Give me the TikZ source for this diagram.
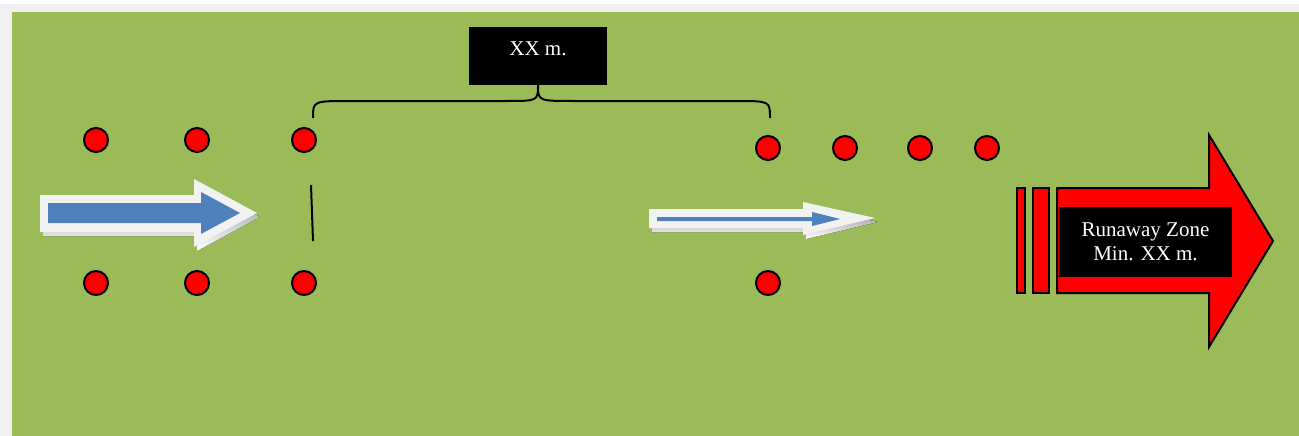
\documentclass[tikz,border=0pt]{standalone}
\usepackage{fontspec}
\setmainfont{Liberation Serif}
\usetikzlibrary{positioning}
\definecolor{field}{HTML}{9BBB59}
\definecolor{frame}{HTML}{F0F0F0}
\definecolor{flow}{HTML}{4F81BD}
\definecolor{halo}{HTML}{F2F2F2}
\definecolor{shade}{HTML}{3F5C3E}
\tikzset{
  cone/.style={circle,draw=black,line width=2pt,fill=red,minimum size=24pt,inner sep=0pt},
  tag/.style={fill=black,text=white,font=\fontsize{21}{24}\selectfont,inner sep=0pt},
  zone/.style={fill=red,draw=black,line width=2pt,line join=miter}
}
\begin{document}
\begin{tikzpicture}[x=1pt,y=-1pt]
  \useasboundingbox (0,0) rectangle (1299,436);
  \fill[white] (0,0) rectangle (1299,436);
  \fill[frame] (0,4) rectangle (1299,436);
  \fill[field] (12,12) rectangle (1299,436);

  % cones, start gate
  \node[cone] (A1) at (96,140) {};
  \node[cone] (A2) at (197,140) {};
  \node[cone] (A3) at (304,140) {};
  \node[cone] (C1) at (96,283) {};
  \node[cone] (C2) at (197,283) {};
  \node[cone] (C3) at (304,283) {};
  % cones, end gate
  \node[cone] (B1) at (768,148) {};
  \node[cone] (B2) at (845,148) {};
  \node[cone] (B3) at (920,148) {};
  \node[cone] (B4) at (987,148) {};
  \node[cone] (D1) at (768,283) {};

  \coordinate (MarkTop) at (311,185);
  \coordinate (MarkBot) at (313,241);
  \draw[line width=2pt] (MarkTop) -- (MarkBot);

  % distance label and brace
  \node[tag,minimum width=138pt,minimum height=58pt,text height=14pt,text depth=14pt]
    (Gap) at (538,56) {XX m.};
  \coordinate (BraceL) at (313,118);
  \coordinate (BraceR) at (770,118);
  \draw[line width=2pt] (BraceL) .. controls (313,101) .. (350,101) -- (505,101)
    .. controls (538,101) .. (Gap.south) .. controls (538,101) .. (575,101) -- (735,101)
    .. controls (770,101) .. (BraceR);

  % entry arrow
  \fill[shade] (43,199) -- (197,199) -- (197,183) -- (260,217) -- (197,251) -- (197,236) -- (43,236) -- cycle;
  \fill[halo] (40,195) -- (194,195) -- (194,179) -- (257,213) -- (194,247) -- (194,232) -- (40,232) -- cycle;
  \fill[flow] (48,203) -- (201,203) -- (201,192) -- (240,213) -- (201,234) -- (201,223) -- (48,223) -- cycle;

  % middle arrow
  \fill[shade] (652,213) -- (806,213) -- (806,206) -- (878,222) -- (806,239) -- (806,232) -- (652,232) -- cycle;
  \fill[halo] (649,209) -- (803,209) -- (803,202) -- (875,218) -- (803,235) -- (803,228) -- (649,228) -- cycle;
  \fill[flow] (657,217) -- (812,217) -- (812,212) -- (840,219) -- (812,226) -- (812,221) -- (657,221) -- cycle;

  % runaway zone
  \filldraw[zone] (1017,188) rectangle (1025,293);
  \filldraw[zone] (1033,188) rectangle (1049,293);
  \filldraw[zone] (1057,188) -- (1209,188) -- (1209,135) -- (1273,241)
    -- (1209,347) -- (1209,293) -- (1057,293) -- cycle;
  \node[tag,align=center,minimum width=173pt,minimum height=70pt]
    (Runaway) at (1145.5,242) {Runaway Zone\\Min. XX m.};
\end{tikzpicture}
\end{document}
